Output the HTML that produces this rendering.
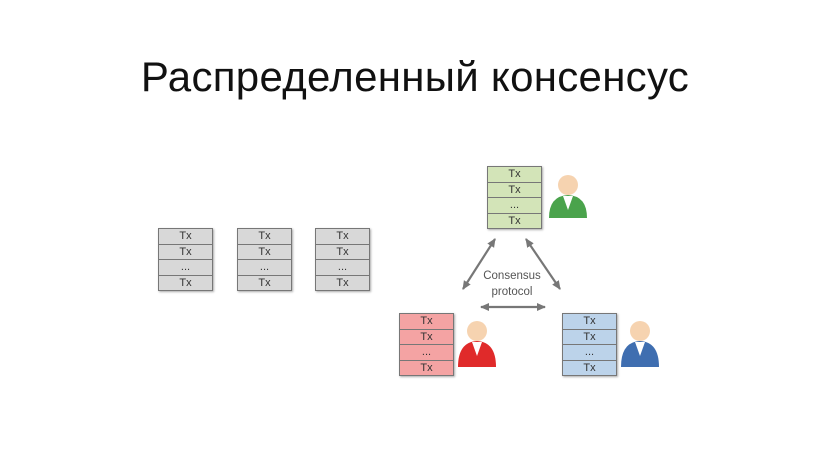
<!DOCTYPE html>
<html><head><meta charset="utf-8"><style>
body{margin:0;width:830px;height:467px;background:#fff;position:relative;overflow:hidden;font-family:"Liberation Sans","DejaVu Sans",sans-serif}
.t{position:absolute;top:53px;left:0;width:830px;text-align:center;font-size:42px;color:#111;letter-spacing:0.3px}
.st{position:absolute;width:53px;border:1px solid #777;box-shadow:1px 1px 2px #aaa}
.st div{height:14.5px;border-bottom:1px solid #777;font-size:11px;line-height:15px;text-align:center;color:#333}
.st div:last-child{border-bottom:none}
.g div{background:#d8d8d8}.gr div{background:#d3e4b8}.r div{background:#f4a3a3}.b div{background:#bcd3ea}
</style></head><body>
<div class="t">Распределенный консенсус</div>
<div class="st g" style="left:158px;top:228px"><div>Tx</div><div>Tx</div><div>...</div><div>Tx</div></div>
<div class="st g" style="left:237px;top:228px"><div>Tx</div><div>Tx</div><div>...</div><div>Tx</div></div>
<div class="st g" style="left:315px;top:228px"><div>Tx</div><div>Tx</div><div>...</div><div>Tx</div></div>
<div class="st gr" style="left:487px;top:166px"><div>Tx</div><div>Tx</div><div>...</div><div>Tx</div></div>
<div class="st r" style="left:399px;top:313px"><div>Tx</div><div>Tx</div><div>...</div><div>Tx</div></div>
<div class="st b" style="left:562px;top:313px"><div>Tx</div><div>Tx</div><div>...</div><div>Tx</div></div>
<svg width="830" height="467" style="position:absolute;left:0;top:0">
<defs><marker id="a" markerUnits="userSpaceOnUse" markerWidth="10" markerHeight="10" refX="8" refY="5" orient="auto-start-reverse"><path d="M0,1 L9,5 L0,9 Z" fill="#777"/></marker></defs>
<g stroke="#777" stroke-width="2.2" fill="none">
<line x1="495" y1="239" x2="463" y2="289" marker-start="url(#a)" marker-end="url(#a)"/>
<line x1="526" y1="239" x2="560" y2="289" marker-start="url(#a)" marker-end="url(#a)"/>
<line x1="481" y1="307" x2="545" y2="307" marker-start="url(#a)" marker-end="url(#a)"/>
</g>
<text x="512" y="279" font-size="11.5" fill="#555" text-anchor="middle" font-family="Liberation Sans">Consensus</text>
<text x="512" y="295" font-size="11.5" fill="#555" text-anchor="middle" font-family="Liberation Sans">protocol</text>
<g>
<path d="M549,218 Q549,196 568,195 Q587,196 587,218 Z" fill="#4aa34c"/>
<path d="M563,196 L568,210 L573,196 Z" fill="#fff"/>
<circle cx="568" cy="185" r="10" fill="#f6d3b0"/>
<path d="M458,367 Q458,342 477,341 Q496,342 496,367 Z" fill="#e02a2a"/>
<path d="M472,342 L477,356 L482,342 Z" fill="#fff"/>
<circle cx="477" cy="331" r="10" fill="#f6d3b0"/>
<path d="M621,367 Q621,342 640,341 Q659,342 659,367 Z" fill="#3f6eb0"/>
<path d="M635,342 L640,356 L645,342 Z" fill="#fff"/>
<circle cx="640" cy="331" r="10" fill="#f6d3b0"/>
</g>
</svg>
</body></html>
